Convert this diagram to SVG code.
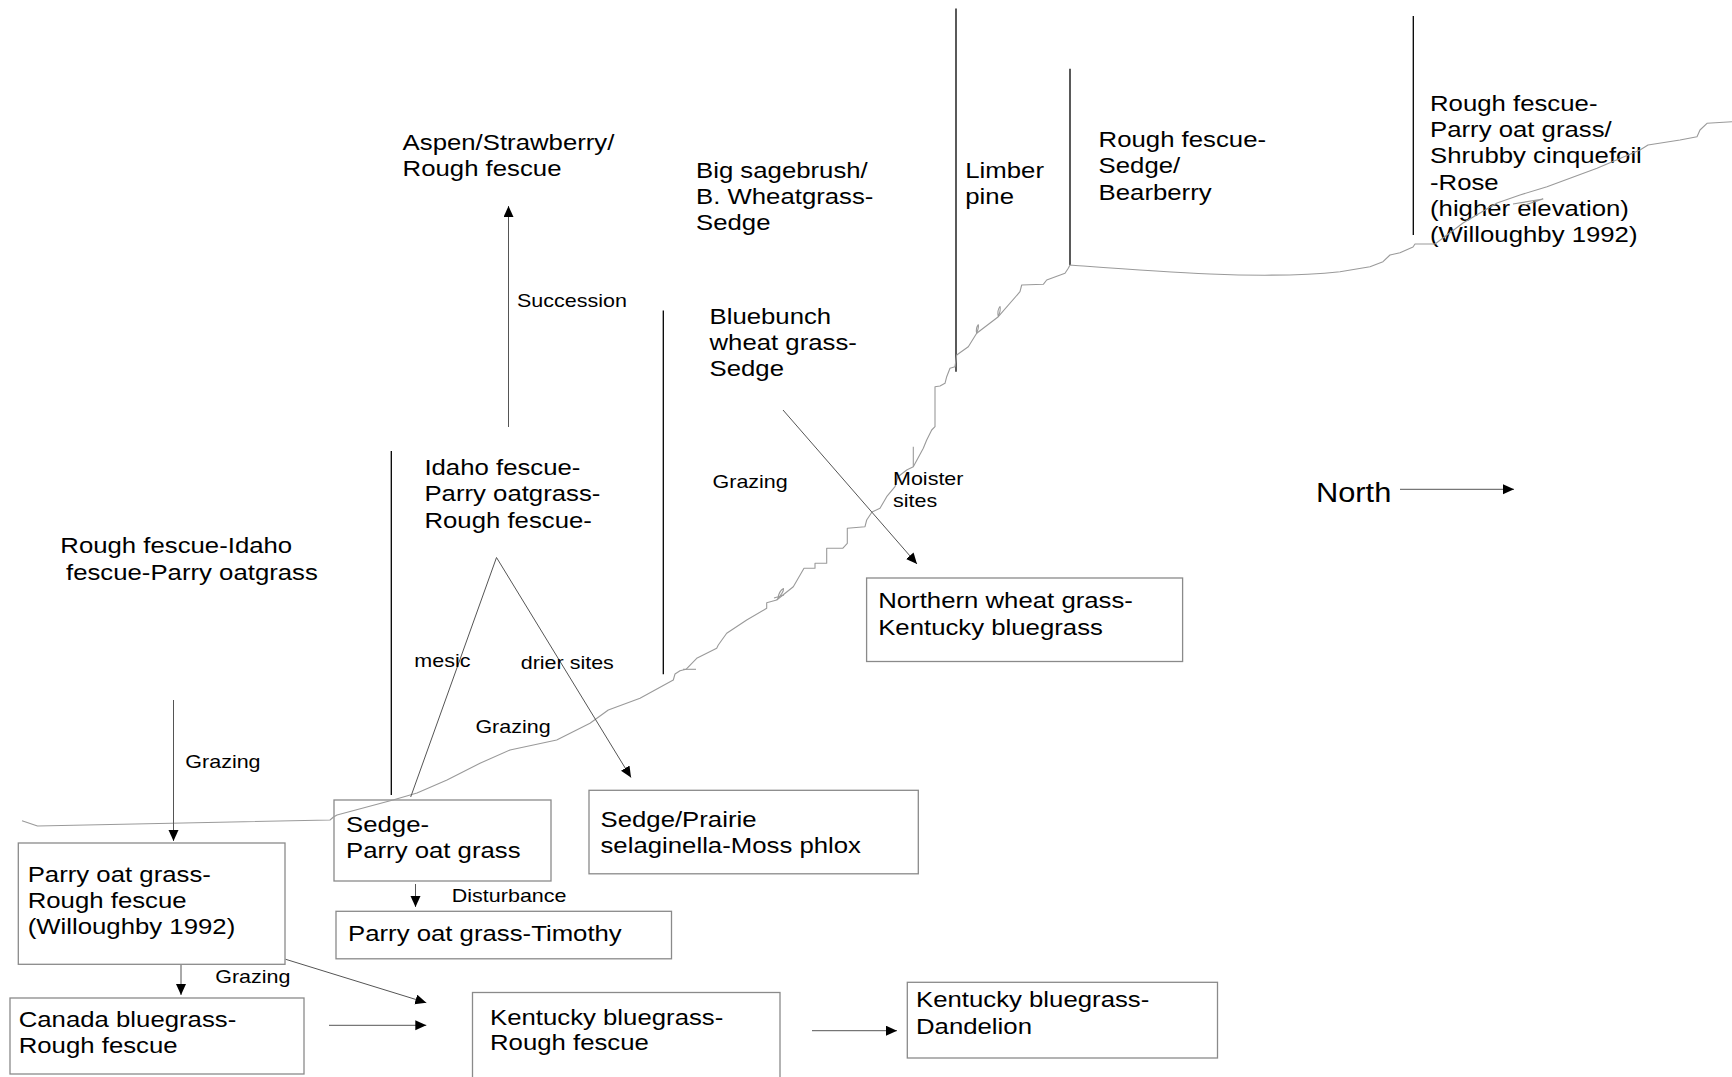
<svg xmlns="http://www.w3.org/2000/svg" width="1732" height="1077" viewBox="0 0 1732 1077">
<style>
text{font-family:"Liberation Sans",Arial,Helvetica,sans-serif;fill:#000}
.L{font-size:23px}
.S{font-size:19.2px}
.N{font-size:28px}
.box{fill:#fff;stroke:#8a8a8a;stroke-width:1.3}
.div{stroke:#000;stroke-width:1.3;fill:none}
.con{stroke:#555;stroke-width:1;fill:none}
.arr{marker-end:url(#ah)}
.gnd{stroke:#9a9a9a;stroke-width:1.1;fill:none;stroke-linejoin:round}
</style>
<defs>
<marker id="ah" markerUnits="userSpaceOnUse" markerWidth="12" markerHeight="11" refX="11" refY="5" orient="auto">
<path d="M0,0 L11,5 L0,10 Z" fill="#000"/>
</marker>
</defs>
<rect width="1732" height="1077" fill="#fff"/>

<g id="dividers">
<path class="div" d="M391.3,451 V795"/>
<path class="div" d="M663.3,310.5 V674.3"/>
<path class="div" d="M956,8.5 V371.7"/>
<path class="div" d="M1070,68.8 V265"/>
<path class="div" d="M1413.3,16 V235"/>
</g>

<g id="node-parry-rough">
<rect class="box" x="18.3" y="843" width="266.7" height="121.3"/>
<text class="L" transform="translate(27.7,881.5) scale(1.12,1)"><tspan x="0">Parry oat grass-</tspan><tspan x="0" dy="26.3">Rough fescue</tspan><tspan x="0" dy="26.3">(Willoughby 1992)</tspan></text>
</g>
<g id="node-canada">
<rect class="box" x="10" y="998" width="294" height="76"/>
<text class="L" transform="translate(18.7,1027) scale(1.12,1)"><tspan x="0">Canada bluegrass-</tspan><tspan x="0" dy="26.3">Rough fescue</tspan></text>
</g>
<g id="node-sedge-parry">
<rect class="box" x="334" y="800" width="217" height="81"/>
<text class="L" transform="translate(346,832) scale(1.12,1)"><tspan x="0">Sedge-</tspan><tspan x="0" dy="26.3">Parry oat grass</tspan></text>
</g>
<g id="node-timothy">
<rect class="box" x="336" y="911.3" width="335.5" height="47.5"/>
<text class="L" transform="translate(348,941.3) scale(1.12,1)">Parry oat grass-Timothy</text>
</g>
<g id="node-prairie">
<rect class="box" x="589" y="790.3" width="329.3" height="83.5"/>
<text class="L" transform="translate(600.5,826.5) scale(1.12,1)"><tspan x="0">Sedge/Prairie</tspan><tspan x="0" dy="26.8">selaginella-Moss phlox</tspan></text>
</g>
<g id="node-kentucky-rough">
<rect class="box" x="472.5" y="992.5" width="307.5" height="110"/>
<text class="L" transform="translate(490,1024.5) scale(1.12,1)"><tspan x="0">Kentucky bluegrass-</tspan><tspan x="0" dy="26">Rough fescue</tspan></text>
</g>
<g id="node-kentucky-dandelion">
<rect class="box" x="907.3" y="982.3" width="310.2" height="75.7"/>
<text class="L" transform="translate(916,1007.3) scale(1.12,1)"><tspan x="0">Kentucky bluegrass-</tspan><tspan x="0" dy="26.5">Dandelion</tspan></text>
</g>
<g id="node-northern">
<rect class="box" x="866.6" y="578" width="316" height="83.5"/>
<text class="L" transform="translate(878.2,608.4) scale(1.12,1)"><tspan x="0">Northern wheat grass-</tspan><tspan x="0" dy="26.5">Kentucky bluegrass</tspan></text>
</g>

<g id="node-aspen">
<text class="L" transform="translate(402.6,149.5) scale(1.12,1)"><tspan x="0">Aspen/Strawberry/</tspan><tspan x="0" dy="26.5">Rough fescue</tspan></text>
</g>
<g id="node-sagebrush">
<text class="L" transform="translate(696,177.5) scale(1.12,1)"><tspan x="0">Big sagebrush/</tspan><tspan x="0" dy="26.5">B. Wheatgrass-</tspan><tspan x="0" dy="26.5">Sedge</tspan></text>
</g>
<g id="node-bluebunch">
<text class="L" transform="translate(709.5,323.5) scale(1.12,1)"><tspan x="0">Bluebunch</tspan><tspan x="0" dy="26.3">wheat grass-</tspan><tspan x="0" dy="26.3">Sedge</tspan></text>
</g>
<g id="node-idaho">
<text class="L" transform="translate(424.4,475) scale(1.12,1)"><tspan x="0">Idaho fescue-</tspan><tspan x="0" dy="26.5">Parry oatgrass-</tspan><tspan x="0" dy="26.5">Rough fescue-</tspan></text>
</g>
<g id="node-limber">
<text class="L" transform="translate(965.3,178) scale(1.12,1)"><tspan x="0">Limber</tspan><tspan x="0" dy="26.4">pine</tspan></text>
</g>
<g id="node-bearberry">
<text class="L" transform="translate(1098.6,147) scale(1.12,1)"><tspan x="0">Rough fescue-</tspan><tspan x="0" dy="26.5">Sedge/</tspan><tspan x="0" dy="26.5">Bearberry</tspan></text>
</g>
<g id="node-shrubby">
<text class="L" transform="translate(1430,110.5) scale(1.12,1)"><tspan x="0">Rough fescue-</tspan><tspan x="0" dy="26.4">Parry oat grass/</tspan><tspan x="0" dy="26.4">Shrubby cinquefoil</tspan><tspan x="0" dy="26.4">-Rose</tspan><tspan x="0" dy="26.4">(higher elevation)</tspan><tspan x="0" dy="26.4">(Willoughby 1992)</tspan></text>
</g>
<g id="node-rough-idaho">
<text class="L" transform="translate(60.3,553.3) scale(1.12,1)"><tspan x="0">Rough fescue-Idaho</tspan><tspan x="5.1" dy="26.5">fescue-Parry oatgrass</tspan></text>
</g>
<g id="node-north">
<text class="N" transform="translate(1316,501.7) scale(1.1,1)">North</text>
</g>

<g id="ground">
<path class="gnd" d="M22,820.7 L37.5,826 L330,820 L333.5,817 L337,815 L393,800 L417,793 L447,780 L480,763.3 L510,750 L556.7,740 L590,723.3 L608.3,710 L640,698.3 L673.3,680 L675,674 L680,670.7 L686,669.3 L696.7,658.3 L716.7,648.3 L718.3,645 L726.7,633.3 L746.7,620 L766.7,608.3 L766.7,602.7 L776.7,600 L793.3,586.7 L804,568.3 L815,568.3 L815,563.3 L826.7,563.3 L826.7,548.3 L842.7,548.3 L847.3,543.3 L847.3,528.3 L865,526.7 L866.7,520 L872,512 L880,508.3 L886.7,496.7 L895,486.7 L898,476.7 L906.7,470 L913.3,466.7 L923.3,448.3 L926.7,440 L931.7,430 L935,426.7 L935,386.7 L940,386 L945,383.3 L946.7,376.7 L950,368.3 L955,366.7 L956.7,355 L968.3,346.7 L976.7,333.3 L998.3,316.7 L1020,291.7 L1021.7,285 L1043.3,284.3 L1046.7,280 L1065,273.3 L1068.3,268.3 L1070,265 C1110,268 1160,272 1210,274 C1260,276 1310,275 1340,271.7 L1370,266.7 L1383,261.7 L1390,255 L1400,252.7 L1413,247 L1415,244 L1435,244 L1463,223 L1497,203 L1520,195 L1547,186.7 L1597,168.3 L1640,150 L1648,145 L1680,140 L1697,136.7 L1700,130 L1707,123.3 L1732,121.7"/>
<path class="gnd" d="M683,669.3 H696"/>
<path class="gnd" d="M913.3,446.7 V466.7"/>
<path class="gnd" d="M776.7,600 Q784,592 783.5,588.5 Q779,591 778,598 M774,598 L784,595"/>
<path class="gnd" d="M976.7,333.3 Q979,327 978.3,324.7 Q975.5,328 976.7,333.3"/>
<path class="gnd" d="M998.3,316.7 Q1001,310 1000,306.5 Q997,310 998.3,316.7"/>
<path class="gnd" d="M1513,204 L1543,199 L1522,206"/>
</g>

<g id="connectors">
<path class="con arr" d="M508.5,427 V206"/>
<path class="con arr" d="M173.5,700 V841"/>
<path class="con" d="M496.5,557.5 L410.7,797"/>
<path class="con arr" d="M496.5,557.5 L631,777.5"/>
<path class="con arr" d="M783,410 L917,564"/>
<path class="con arr" d="M415.5,884 V907"/>
<path class="con arr" d="M181,965 V995"/>
<path class="con arr" d="M285.7,959.3 L426.3,1002.7"/>
<path class="con arr" d="M329,1025.3 H426.3"/>
<path class="con arr" d="M812,1030.7 H897"/>
<path class="con arr" d="M1400,489.3 H1514"/>
</g>

<g id="edge-labels">
<text class="S" transform="translate(517,306.7) scale(1.12,1)">Succession</text>
<text class="S" transform="translate(185.3,768.3) scale(1.12,1)">Grazing</text>
<text class="S" transform="translate(475.4,733.3) scale(1.12,1)">Grazing</text>
<text class="S" transform="translate(215.2,983.3) scale(1.12,1)">Grazing</text>
<text class="S" transform="translate(451.8,901.7) scale(1.12,1)">Disturbance</text>
<text class="S" transform="translate(712.5,488.4) scale(1.12,1)">Grazing</text>
<text class="S" transform="translate(893,485) scale(1.12,1)"><tspan x="0">Moister</tspan><tspan x="0" dy="21.7">sites</tspan></text>
<text class="S" transform="translate(414.3,666.7) scale(1.12,1)">mesic</text>
<text class="S" transform="translate(520.7,669.3) scale(1.12,1)">drier sites</text>
</g>
</svg>
